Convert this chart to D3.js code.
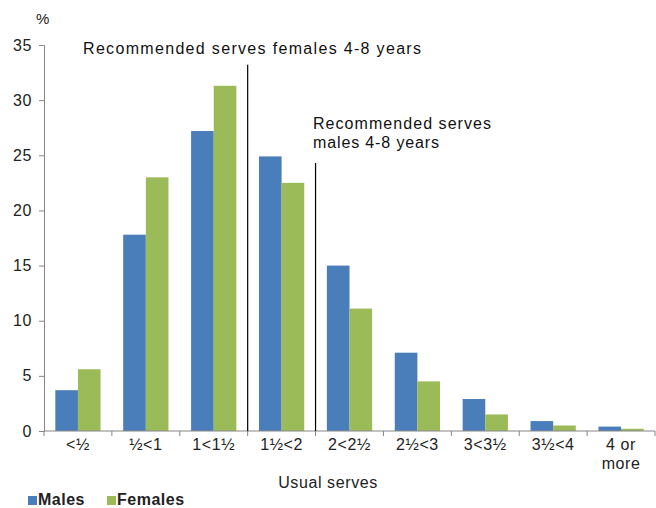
<!DOCTYPE html>
<html><head><meta charset="utf-8">
<script src="https://cdn.jsdelivr.net/npm/d3@7"></script>
<style>body{margin:0;background:#fff;} svg{display:block;font-family:"Liberation Sans",Arial,sans-serif;}</style>
</head><body>
<script>
const categories = ["<½","½<1","1<1½","1½<2","2<2½","2½<3","3<3½","3½<4","4 or more"];
const males   = [3.7, 17.8, 27.2, 24.9, 15.0, 7.1, 2.9, 0.9, 0.4];
const females = [5.6, 23.0, 31.3, 22.5, 11.1, 4.5, 1.5, 0.5, 0.2];
const seriesNames = ["Males","Females"];
const colors = ["#4A7EBB","#9BBB59"];
const yTicks = [0,5,10,15,20,25,30,35];
// reference lines: [boundary index, top value, label lines]
const refLines = [
  {after: 2, top: 33.2, label: ["Recommended serves females 4-8 years"]},
  {after: 3, top: 24.3, label: ["Recommended serves","males 4-8 years"]}
];

const W = 656, H = 508;
const m = {left: 44, right: 1, top: 45, bottom: 77};
const svg = d3.select("body").append("svg").attr("width", W).attr("height", H);

const x = d3.scaleBand().domain(categories).range([m.left, W - m.right]).paddingInner(0).paddingOuter(0);
const x1 = d3.scaleBand().domain(seriesNames).range([0, x.bandwidth()]).paddingInner(0).paddingOuter(0.5);
const y = d3.scaleLinear().domain([0, 35]).range([H - m.bottom, m.top]);

const data = categories.map((c, i) => ({cat: c, vals: [males[i], females[i]]}));

svg.append("g").selectAll("g").data(data).join("g")
  .attr("transform", d => `translate(${x(d.cat)},0)`)
  .selectAll("rect").data(d => d.vals.map((v, j) => ({v, s: seriesNames[j], j})))
  .join("rect")
  .attr("x", d => x1(d.s)).attr("width", x1.bandwidth())
  .attr("y", d => y(d.v)).attr("height", d => y(0) - y(d.v))
  .attr("fill", d => colors[d.j]);

// Y axis
const yAxis = svg.append("g").attr("transform", `translate(${m.left},0)`)
  .call(d3.axisLeft(y).tickValues(yTicks).tickSize(5).tickPadding(7));
yAxis.select(".domain").attr("stroke", "#868686");
yAxis.selectAll(".tick line").attr("stroke", "#868686");
yAxis.selectAll(".tick text").attr("font-size", 16).attr("fill", "#222")
  .attr("letter-spacing", 0.6).attr("font-family", "Liberation Sans, Arial, sans-serif");

// X axis
const xAxisG = svg.append("g").attr("transform", `translate(0,${y(0)})`);
xAxisG.append("line").attr("x1", m.left).attr("x2", W - m.right).attr("y1", 0).attr("y2", 0).attr("stroke", "#868686");
const bounds = categories.map(c => x(c)).concat([x(categories[categories.length-1]) + x.bandwidth()]);
xAxisG.selectAll("line.tk").data(bounds).join("line").attr("class","tk")
  .attr("x1", d => d).attr("x2", d => d).attr("y1", 0).attr("y2", 5).attr("stroke", "#868686");
xAxisG.selectAll("text").data(categories).join("text")
  .attr("x", d => x(d) + x.bandwidth()/2).attr("y", 19)
  .attr("text-anchor", "middle").attr("font-size", 16).attr("letter-spacing", 0.6).attr("fill", "#222")
  .each(function(d){
    const t = d3.select(this);
    const parts = d === "4 or more" ? ["4 or","more"] : [d];
    parts.forEach((p, k) => t.append("tspan").attr("x", x(d) + x.bandwidth()/2).attr("dy", k ? 19 : 0).text(p));
  });

// Reference lines
refLines.forEach((r, i) => {
  const xx = x(categories[r.after]) + x.bandwidth();
  svg.append("line").attr("x1", xx).attr("x2", xx).attr("y1", y(r.top)).attr("y2", y(0))
    .attr("stroke", "#000").attr("stroke-width", 1.2);
});
svg.append("text").attr("x", 83).attr("y", 54).attr("font-size", 16).attr("fill", "#111")
  .attr("textLength", 338).attr("lengthAdjust", "spacing")
  .text(refLines[0].label[0]);
const t2 = svg.append("text").attr("x", 313).attr("y", 129).attr("font-size", 16).attr("fill", "#111");
const t2len = [178, 126];
refLines[1].label.forEach((l, k) => t2.append("tspan").attr("x", 313).attr("dy", k ? 19 : 0)
  .attr("textLength", t2len[k]).attr("lengthAdjust", "spacing").text(l));

// Unit label
svg.append("text").attr("x", 36).attr("y", 24).attr("font-size", 15).attr("fill", "#222").text("%");

// Axis title
svg.append("text").attr("x", 328).attr("y", 488).attr("text-anchor", "middle").attr("font-size", 16)
  .attr("letter-spacing", 0.6).attr("fill", "#222").text("Usual serves");

// Legend
const leg = svg.append("g");
const legX = [28, 107];
seriesNames.forEach((s, i) => {
  leg.append("rect").attr("x", legX[i]).attr("y", 496).attr("width", 9).attr("height", 9).attr("fill", colors[i]);
  leg.append("text").attr("x", legX[i] + 10).attr("y", 505).attr("font-size", 16).attr("font-weight", "bold")
    .attr("letter-spacing", 0.5).attr("fill", "#222").text(s);
});
</script>
</body></html>
